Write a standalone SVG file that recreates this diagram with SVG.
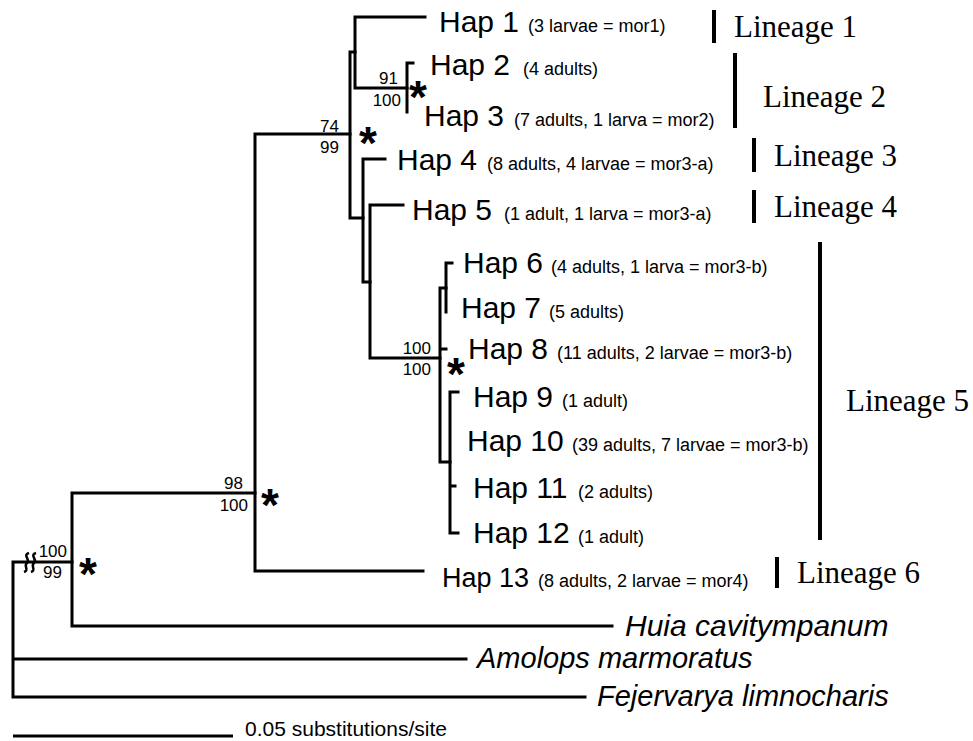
<svg xmlns="http://www.w3.org/2000/svg" width="973" height="741" viewBox="0 0 973 741">
<style>
.br{fill:none;stroke:#000;stroke-width:3;stroke-linecap:square}
.bar{stroke:#000;stroke-width:4}
.hap{font-family:"Liberation Sans",Arial,sans-serif;font-size:30px;fill:#000}
.cnt{font-family:"Liberation Sans",Arial,sans-serif;font-size:18px;fill:#000}
.sup{font-family:"Liberation Sans",Arial,sans-serif;font-size:17px;fill:#000;text-anchor:end}
.ast{font-family:"Liberation Sans",Arial,sans-serif;font-size:46px;font-weight:bold;fill:#000;text-anchor:middle}
.lin{font-family:"Liberation Serif","Times New Roman",serif;font-size:31px;fill:#000}
.sp{font-family:"Liberation Sans",Arial,sans-serif;font-size:29px;font-style:italic;fill:#000}
.scl{font-family:"Liberation Sans",Arial,sans-serif;font-size:21px;fill:#000}
</style>
<rect width="973" height="741" fill="#fff"/>
<g id="connectors">
<path class="br" d="M13,562 V697 M13,562 H72 M13,659 H466 M13,697 H585"/>
<path class="br" d="M72,493 V626 H612 M72,493 H255"/>
<path class="br" d="M255,134 V571 H423 M255,134 H350"/>
<path class="br" d="M350,52 V218 H363 M350,52 H355"/>
<path class="br" d="M355,17 V88 H407 M355,17 H425"/>
<path class="br" d="M407,63 V112 M407,63 H413"/>
<path class="br" d="M363,159 V282 H370 M363,159 H385"/>
<path class="br" d="M370,205 V358 H440 M370,205 H403"/>
<path class="br" d="M440,288 V462 H450 M440,288 H446 M440,349 H446"/>
<path class="br" d="M446,263 V312 M446,263 H452"/>
<path class="br" d="M450,392 V533 H458 M450,392 H458 M450,486 H455"/>
<path d="M29,553 C22,555 31,560 27,563 C23,566 30,570 24,572 M36,553 C29,555 38,560 34,563 C30,566 37,570 31,572" fill="none" stroke="#000" stroke-width="2.5"/>
</g>
<g id="scalebar">
<line x1="13" y1="736" x2="233" y2="736" stroke="#000" stroke-width="3"/>
<text class="scl" x="245" y="736">0.05 substitutions/site</text>
</g>
<g id="support">
<text class="sup" x="398" y="84">91</text>
<text class="sup" x="401" y="106">100</text>
<text class="ast" x="418" y="113">*</text>
<text class="sup" x="339" y="132">74</text>
<text class="sup" x="339" y="153">99</text>
<text class="ast" x="368" y="159">*</text>
<text class="sup" x="431" y="354">100</text>
<text class="sup" x="431" y="375">100</text>
<text class="ast" x="456" y="390">*</text>
<text class="sup" x="243" y="489">98</text>
<text class="sup" x="248" y="511">100</text>
<text class="ast" x="270" y="521">*</text>
<text class="sup" x="67" y="557">100</text>
<text class="sup" x="62" y="578">99</text>
<text class="ast" x="88" y="590">*</text>
</g>
<g id="hap1"><text class="hap" x="439" y="32">Hap 1</text><text class="cnt" x="528" y="32">(3 larvae = mor1)</text></g>
<g id="hap2"><text class="hap" x="430" y="75">Hap 2</text><text class="cnt" x="523" y="75">(4 adults)</text></g>
<g id="hap3"><text class="hap" x="424" y="126">Hap 3</text><text class="cnt" x="514" y="126">(7 adults, 1 larva = mor2)</text></g>
<g id="hap4"><text class="hap" x="397" y="170">Hap 4</text><text class="cnt" x="487" y="170">(8 adults, 4 larvae = mor3-a)</text></g>
<g id="hap5"><text class="hap" x="412" y="220">Hap 5</text><text class="cnt" x="504" y="220">(1 adult, 1 larva = mor3-a)</text></g>
<g id="hap6"><text class="hap" x="463" y="273">Hap 6</text><text class="cnt" x="551" y="273">(4 adults, 1 larva = mor3-b)</text></g>
<g id="hap7"><text class="hap" x="461" y="318">Hap 7</text><text class="cnt" x="549" y="318">(5 adults)</text></g>
<g id="hap8"><text class="hap" x="468" y="359">Hap 8</text><text class="cnt" x="557" y="359">(11 adults, 2 larvae = mor3-b)</text></g>
<g id="hap9"><text class="hap" x="473" y="407">Hap 9</text><text class="cnt" x="562" y="407">(1 adult)</text></g>
<g id="hap10"><text class="hap" x="467" y="451">Hap 10</text><text class="cnt" x="572" y="451">(39 adults, 7 larvae = mor3-b)</text></g>
<g id="hap11"><text class="hap" x="473" y="498">Hap 11</text><text class="cnt" x="578" y="498">(2 adults)</text></g>
<g id="hap12"><text class="hap" x="473" y="543">Hap 12</text><text class="cnt" x="578" y="543">(1 adult)</text></g>
<g id="hap13"><text class="hap" x="442" y="587" style="font-size:27px">Hap 13</text><text class="cnt" x="538" y="587">(8 adults, 2 larvae = mor4)</text></g>
<g id="huia"><text class="sp" x="625" y="636" style="font-size:30px">Huia cavitympanum</text></g>
<g id="amolops"><text class="sp" x="477" y="668">Amolops marmoratus</text></g>
<g id="fejervarya"><text class="sp" x="597" y="706">Fejervarya limnocharis</text></g>
<g id="lineage1"><line class="bar" x1="714" y1="10" x2="714" y2="43"/><text class="lin" x="734" y="37">Lineage 1</text></g>
<g id="lineage2"><line class="bar" x1="735" y1="53" x2="735" y2="128"/><text class="lin" x="763" y="107">Lineage 2</text></g>
<g id="lineage3"><line class="bar" x1="754" y1="138" x2="754" y2="172"/><text class="lin" x="774" y="166">Lineage 3</text></g>
<g id="lineage4"><line class="bar" x1="754" y1="190" x2="754" y2="223"/><text class="lin" x="774" y="217">Lineage 4</text></g>
<g id="lineage5"><line class="bar" x1="820" y1="242" x2="820" y2="540"/><text class="lin" x="846" y="411">Lineage 5</text></g>
<g id="lineage6"><line class="bar" x1="777" y1="557" x2="777" y2="588"/><text class="lin" x="797" y="583">Lineage 6</text></g>
</svg>
